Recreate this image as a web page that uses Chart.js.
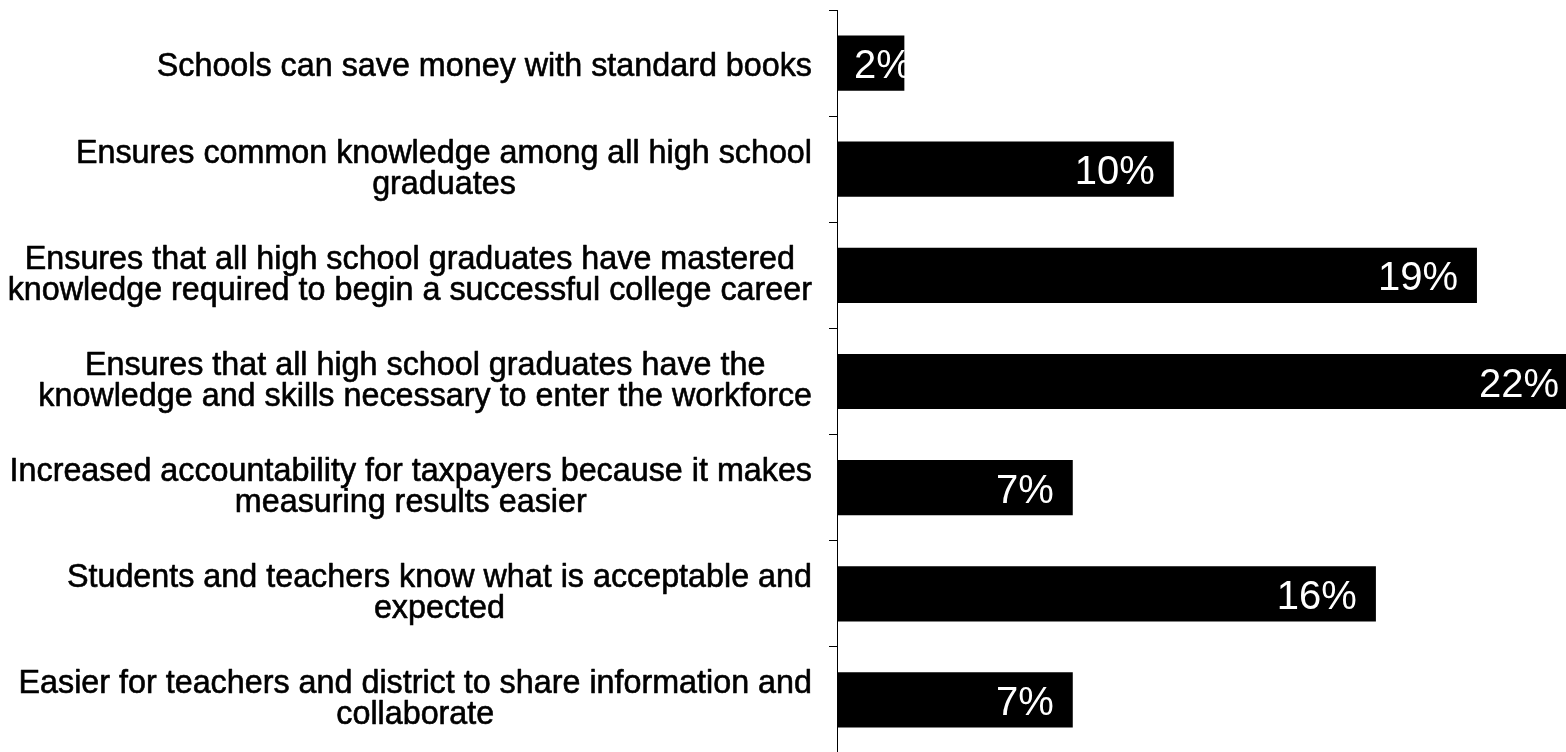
<!DOCTYPE html>
<html>
<head>
<meta charset="utf-8">
<script src="https://cdn.jsdelivr.net/npm/chart.js@4/dist/chart.umd.min.js"></script>
<style>
  html, body { margin: 0; padding: 0; background: #ffffff; overflow: hidden; }
  #wrap { position: absolute; left: 0; top: 0; width: 1580px; height: 753px; }
</style>
</head>
<body>
<div id="wrap"><canvas id="chart"></canvas></div>
<script>
// Reasons given for standard curricula, share of responses
const categories = [
  ["Schools can save money with standard books"],
  ["Ensures common knowledge among all high school", "graduates"],
  ["Ensures that all high school graduates have mastered", "knowledge required to begin a successful college career"],
  ["Ensures that all high school graduates have the", "knowledge and skills necessary to enter the workforce"],
  ["Increased accountability for taxpayers because it makes", "measuring results easier"],
  ["Students and teachers know what is acceptable and", "expected"],
  ["Easier for teachers and district to share information and", "collaborate"]
];
const values = [2, 10, 19, 22, 7, 16, 7];
const valueLabels = ["2%", "10%", "19%", "22%", "7%", "16%", "7%"];

const FONT = '"Liberation Sans", Arial, Helvetica, sans-serif';

// Category text: each block right-aligned to the axis, lines centred within the block
const categoryLabelPlugin = {
  id: 'categoryLabels',
  afterDraw(chart) {
    const ctx = chart.ctx;
    const yScale = chart.scales.y;
    const rightEdge = chart.chartArea.left - 25;
    const lineGap = 31;
    ctx.save();
    ctx.font = '32.3px ' + FONT;
    ctx.fillStyle = '#000000';
    ctx.strokeStyle = '#000000';
    ctx.lineWidth = 0.6;
    ctx.lineJoin = 'round';
    ctx.textAlign = 'center';
    ctx.textBaseline = 'alphabetic';
    chart.data.labels.forEach((lines, i) => {
      const cy = yScale.getPixelForTick(i);
      const widest = Math.max(...lines.map(l => ctx.measureText(l).width));
      const cx = rightEdge - widest / 2;
      const first = lines.length === 1 ? cy + 12.5 : cy + 9 - (lines.length - 1) * lineGap / 2;
      lines.forEach((line, k) => {
        const y = first + k * lineGap;
        ctx.fillText(line, cx, y);
        ctx.strokeText(line, cx, y);
      });
    });
    ctx.restore();
  }
};

// Value text inside the bar end, white
const valueLabelPlugin = {
  id: 'valueLabels',
  afterDatasetsDraw(chart) {
    const ctx = chart.ctx;
    const meta = chart.getDatasetMeta(0);
    ctx.save();
    ctx.font = '40px ' + FONT;
    ctx.fillStyle = '#ffffff';
    ctx.textAlign = 'left';
    ctx.textBaseline = 'alphabetic';
    meta.data.forEach((bar, i) => {
      const text = valueLabels[i];
      const w = ctx.measureText(text).width;
      const left = Math.max(bar.base + 17, bar.x - 19 - w);
      ctx.fillText(text, left, bar.y + 15);
    });
    ctx.restore();
  }
};

new Chart(document.getElementById('chart'), {
  type: 'bar',
  data: {
    labels: categories,
    datasets: [{
      data: values,
      backgroundColor: '#000000',
      borderWidth: 0,
      barPercentage: 0.52,
      categoryPercentage: 1.0
    }]
  },
  options: {
    indexAxis: 'y',
    responsive: true,
    maintainAspectRatio: false,
    devicePixelRatio: 1,
    animation: false,
    layout: { padding: { top: 10, right: 2, left: 0, bottom: 0 } },
    plugins: {
      legend: { display: false },
      tooltip: { enabled: false }
    },
    scales: {
      x: {
        display: false,
        min: 0,
        max: 22
      },
      y: {
        ticks: { display: false },
        grid: {
          display: true,
          offset: true,
          drawOnChartArea: false,
          drawTicks: true,
          tickLength: 8,
          color: '#000000',
          lineWidth: 1
        },
        border: { display: true, color: '#000000', width: 1 },
        afterFit(scale) { scale.width = 837; }
      }
    }
  },
  plugins: [categoryLabelPlugin, valueLabelPlugin]
});
</script>
</body>
</html>
